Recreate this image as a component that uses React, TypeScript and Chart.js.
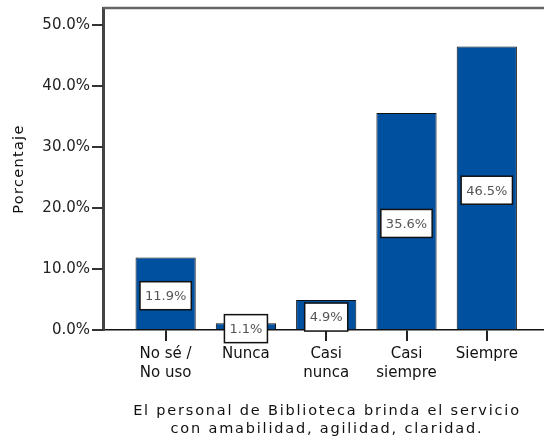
import React, { useEffect, useRef } from "react";
import { Chart, registerables } from "chart.js";

Chart.register(...registerables);

const categories: string[][] = [
  ["No sé /", "No uso"],
  ["Nunca"],
  ["Casi", "nunca"],
  ["Casi", "siempre"],
  ["Siempre"],
];
const percentages: number[] = [11.9, 1.1, 4.9, 35.6, 46.5];
const yTicks: number[] = [0, 10, 20, 30, 40, 50];
const xTitleLines: string[] = [
  "El personal de Biblioteca brinda el servicio",
  "con amabilidad, agilidad, claridad.",
];
const yTitle = "Porcentaje";

const FONT = "'DejaVu Sans', sans-serif";

const framePlugin = {
  id: "frame",
  afterDraw(chart: any) {
    const { ctx, chartArea } = chart;
    ctx.save();
    ctx.strokeStyle = "#666";
    ctx.lineWidth = 2.5;
    ctx.beginPath();
    ctx.moveTo(chartArea.left, chartArea.top);
    ctx.lineTo(chartArea.right + 2, chartArea.top);
    ctx.stroke();

    // y tick marks
    const y = chart.scales.y;
    ctx.strokeStyle = "#333";
    ctx.lineWidth = 2;
    yTicks.forEach((v) => {
      const py = Math.round(y.getPixelForValue(v));
      ctx.beginPath();
      ctx.moveTo(chartArea.left - 11, py);
      ctx.lineTo(chartArea.left, py);
      ctx.stroke();
    });

    ctx.fillStyle = "#111";
    ctx.letterSpacing = "1.8px";
    ctx.font = `14.5px ${FONT}`;
    ctx.textAlign = "center";
    ctx.textBaseline = "middle";
    const cx = (chartArea.left + chartArea.right) / 2 + 4;
    ctx.fillText(xTitleLines[0], cx, 411);
    ctx.fillText(xTitleLines[1], cx, 429);

    ctx.letterSpacing = "1.3px";
    ctx.font = `14.5px ${FONT}`;
    ctx.translate(19, 169);
    ctx.rotate(-Math.PI / 2);
    ctx.fillText(yTitle, 0, 0);
    ctx.restore();
  },
};

const labelPlugin = {
  id: "barLabels",
  afterDatasetsDraw(chart: any) {
    const { ctx } = chart;
    const meta = chart.getDatasetMeta(0);
    ctx.save();
    ctx.font = `13px ${FONT}`;
    ctx.textAlign = "center";
    ctx.textBaseline = "middle";
    meta.data.forEach((bar: any, i: number) => {
      const text = percentages[i].toFixed(1) + "%";
      const w = ctx.measureText(text).width + 10;
      const h = 28;
      const cy = (bar.y + bar.base) / 2 + 2.5;
      ctx.fillStyle = "#fff";
      ctx.fillRect(bar.x - w / 2, cy - h / 2, w, h);
      ctx.strokeStyle = "#111";
      ctx.lineWidth = 1.5;
      ctx.strokeRect(bar.x - w / 2, cy - h / 2, w, h);
      ctx.fillStyle = "#555";
      ctx.fillText(text, bar.x, cy + 1);
    });
    ctx.restore();
  },
};

export default function App() {
  const ref = useRef<HTMLCanvasElement | null>(null);
  useEffect(() => {
    if (!ref.current) return;
    const chart = new Chart(ref.current, {
      type: "bar",
      data: {
        datasets: [
          {
            data: percentages.map((v, i) => ({ x: i, y: v })),
            backgroundColor: "#0050a0",
            borderColor: "#111",
            borderWidth: 1,
            barPercentage: 0.75,
            categoryPercentage: 1,
          },
        ],
      },
      options: {
        animation: false,
        responsive: false,
        layout: { padding: { left: 0, right: 1, top: 8, bottom: 0 } },
        plugins: {
          legend: { display: false },
          tooltip: { enabled: false },
        },
        scales: {
          x: {
            type: "linear",
            offset: false,
            min: -0.78,
            max: 4.7,
            afterBuildTicks: (scale: any) => {
              scale.ticks = categories.map((_, i) => ({ value: i }));
            },
            afterFit: (scale: any) => {
              scale.height = 112;
              scale.paddingLeft = 0;
              scale.paddingRight = 0;
            },
            ticks: {
              autoSkip: false,
              maxRotation: 0,
              padding: 3,
              color: "#111",
              font: { family: FONT, size: 15, lineHeight: 1.3 },
              callback: (v: any) => categories[v] ?? "",
            },
            grid: {
              offset: false,
              drawOnChartArea: false,
              drawTicks: true,
              tickLength: 11,
              color: "#222",
              tickColor: "#222",
              lineWidth: 2,
            },
            border: { display: true, color: "#111", width: 1.5 },
          },
          y: {
            min: 0,
            max: 52.8,
            afterBuildTicks: (scale: any) => {
              scale.ticks = yTicks.map((v) => ({ value: v }));
            },
            afterFit: (scale: any) => {
              scale.width = 103;
              scale.paddingTop = 0;
              scale.paddingBottom = 0;
            },
            ticks: {
              padding: 2,
              color: "#222",
              font: { family: FONT, size: 15 },
              callback: (v: any) => Number(v).toFixed(1) + "%",
            },
            grid: {
              drawOnChartArea: false,
              drawTicks: true,
              tickLength: 11,
              color: "#333",
              tickColor: "#333",
              lineWidth: 2,
            },
            border: { display: true, color: "#444", width: 3 },
          },
        },
      },
      plugins: [framePlugin, labelPlugin],
    });
    return () => chart.destroy();
  }, []);
  return (
    <div style={{ position: "fixed", left: 0, top: 0, width: 544, height: 442, background: "#fff" }}>
      <canvas ref={ref} width={544} height={442} style={{ width: 544, height: 442 }} />
    </div>
  );
}
